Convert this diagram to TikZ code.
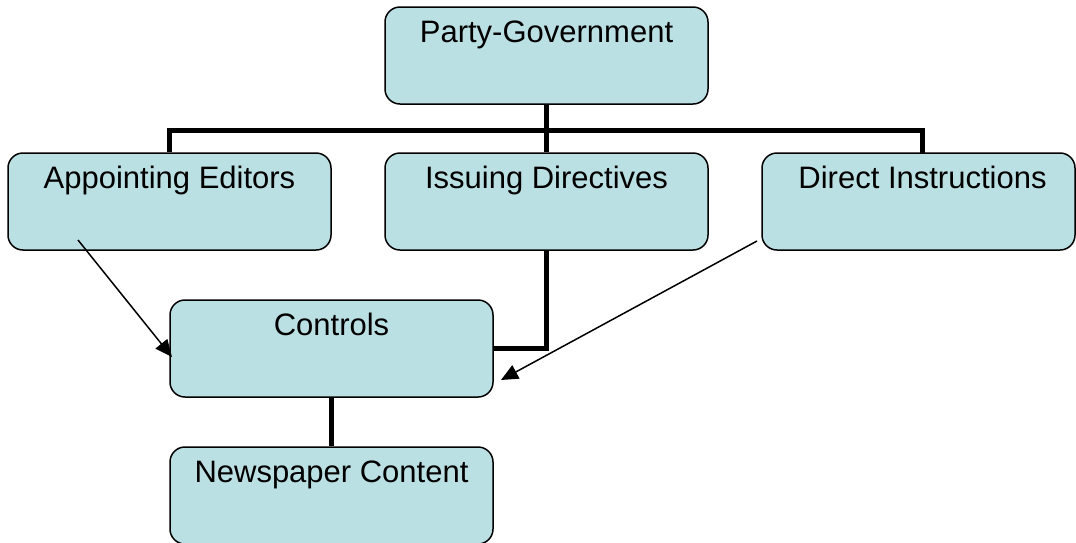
\documentclass[tikz,border=0pt]{standalone}
\usepackage{fontspec}
\setmainfont{Liberation Sans}
\usetikzlibrary{arrows.meta}
\definecolor{boxfill}{RGB}{187,224,227}
\begin{document}
\begin{tikzpicture}[x=1pt,y=-1pt,
  box/.style={draw=black,line width=1.5pt,fill=boxfill,rounded corners=15pt,minimum height=97pt,inner sep=0pt},
  lbl/.style={anchor=base,inner sep=0pt,font=\fontsize{31}{37}\selectfont},
  bar/.style={line width=5pt,line cap=butt},
  thinarrow/.style={line width=1.5pt,-{Triangle[length=17pt,width=15pt]}}]
\useasboundingbox (0,0) rectangle (1076,542);
\node[box,minimum width=323pt] (pg) at (546.5,55.5) {};
\node[box,minimum width=323pt] (ae) at (169.5,201.5) {};
\node[box,minimum width=323pt] (id) at (546.5,201.5) {};
\node[box,minimum width=313pt] (di) at (918.5,201.5) {};
\node[box,minimum width=323pt] (ct) at (331.5,348.5) {};
\node[box,minimum width=323pt] (nc) at (331.5,495.5) {};
\node[lbl] (pgt) at ([yshift=-36pt]pg.north) {Party-Government};
\node[lbl] (aet) at ([yshift=-36pt]ae.north) {Appointing Editors};
\node[lbl] (idt) at ([yshift=-36pt]id.north) {Issuing Directives};
\node[lbl] (dit) at ([xshift=4pt,yshift=-36pt]di.north) {Direct Instructions};
\node[lbl] (ctt) at ([yshift=-36pt]ct.north) {Controls};
\node[lbl] (nct) at ([yshift=-36pt]nc.north) {Newspaper Content};
\coordinate (bus) at (546.5,130.5);
\coordinate (dijoin) at (922,153);
\draw[bar] (pg.south) -- (bus);
\draw[bar] (ae.north) -- (ae.north |- bus) -- (dijoin |- bus) -- (dijoin);
\draw[bar] (id.north) -- (id.north |- bus);
\draw[bar] (id.south) |- (ct.east);
\draw[bar] (ct.south) -- (nc.north);
\coordinate (a1s) at (78,240);
\coordinate (a1e) at (172,357);
\coordinate (a2s) at (757,241);
\coordinate (a2e) at (501,380);
\draw[thinarrow] (a1s) -- (a1e);
\draw[thinarrow] (a2s) -- (a2e);
\end{tikzpicture}
\end{document}
